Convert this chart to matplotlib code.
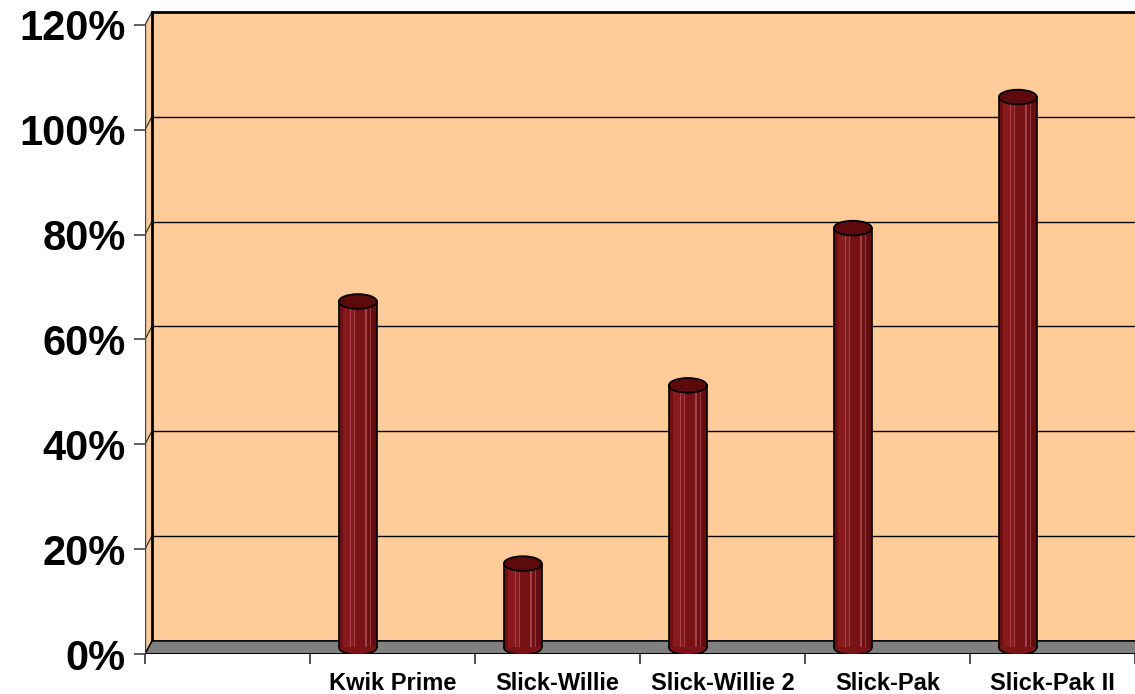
"""
3D-style cylinder chart (Excel look): share per product.
"""

import matplotlib.pyplot as plt
from matplotlib.patches import Polygon, Rectangle, Ellipse

# data
categories = ['', 'Kwik Prime', 'Slick-Willie', 'Slick-Willie 2', 'Slick-Pak', 'Slick-Pak II']
values = [None, 66, 16, 50, 80, 105]
y_ticks = [0, 20, 40, 60, 80, 100, 120]
y_labels = ['0%', '20%', '40%', '60%', '80%', '100%', '120%']

plt.rcParams['font.family'] = ['Liberation Sans', 'DejaVu Sans']

WALL = '#FFCC99'
FLOOR = '#808080'
BODY = '#7A1315'
TOP = '#5C0A0C'

# depth offset of the back wall (category units / percent units)
DX = 0.042
DY = 2.5
N = len(categories)


def draw_box(ax):
    # back wall
    ax.add_patch(Polygon([(DX, DY), (N + DX, DY), (N + DX, 120 + DY), (DX, 120 + DY)],
                         closed=True, fc=WALL, ec='none', zorder=0))
    # left side wall
    ax.add_patch(Polygon([(0, 0), (DX, DY), (DX, 120 + DY), (0, 120)],
                         closed=True, fc=WALL, ec='none', zorder=0))
    # gridlines on back and side walls
    for v in y_ticks[1:]:
        lw = 2 if v == y_ticks[-1] else 1
        ax.plot([DX, N + DX], [v + DY, v + DY], color='black', lw=lw, zorder=1,
                solid_capstyle='butt')
        ax.plot([0, DX], [v, v + DY], color='#333333', lw=0.9, zorder=1)
    ax.plot([DX, DX], [DY, 120 + DY], color='black', lw=2, zorder=1)
    # floor
    ax.add_patch(Polygon([(0, 0), (N, 0), (N + DX, DY), (DX, DY)],
                         closed=True, fc=FLOOR, ec='black', lw=1.2, zorder=1))
    # front axis lines
    ax.plot([0, 0], [0, 120], color='#444444', lw=1, zorder=1)
    ax.plot([0, N], [0, 0], color='black', lw=1.4, zorder=2)


def draw_cylinder(ax, cx, val, w=0.23, eh=2.8):
    base = DY / 2
    top = val + DY / 2
    ax.add_patch(Ellipse((cx, base), w, eh, fc=BODY, ec='black', lw=1.2, zorder=3))
    ax.add_patch(Rectangle((cx - w / 2, base), w, top - base, fc=BODY, ec='none', zorder=3))
    # shading bands
    bands = [(0.00, 0.12, '#6E1012'), (0.12, 0.28, '#861A1C'), (0.28, 0.31, '#A8444A'),
             (0.31, 0.40, '#841A1C'), (0.40, 0.43, '#A0404A'), (0.43, 0.70, '#781315'),
             (0.70, 0.73, '#A04048'), (0.73, 0.82, '#6E0F12'), (0.82, 0.85, '#9A3C44'),
             (0.85, 1.00, '#650D10')]
    for f0, f1, c in bands:
        ax.add_patch(Rectangle((cx - w / 2 + f0 * w, base), (f1 - f0) * w, top - base,
                               fc=c, ec='none', zorder=3))
    ax.plot([cx - w / 2, cx - w / 2], [base, top], color='black', lw=1.2, zorder=4)
    ax.plot([cx + w / 2, cx + w / 2], [base, top], color='black', lw=1.2, zorder=4)
    ax.add_patch(Ellipse((cx, top), w, eh, fc=TOP, ec='black', lw=1.3, zorder=5))


fig = plt.figure(figsize=(11.35, 6.94), dpi=100)
ax = fig.add_axes([145 / 1135, 40 / 694, 990 / 1135, 123 * 5.242 / 694])
ax.set_xlim(0, N)
ax.set_ylim(0, 123)
ax.patch.set_visible(False)
for s in ax.spines.values():
    s.set_visible(False)

draw_box(ax)

for i, v in enumerate(values):
    if v is None:
        continue
    draw_cylinder(ax, i + 0.29, v)

# y axis
ax.set_yticks(y_ticks)
ax.set_yticklabels(y_labels, fontsize=30, fontweight='bold')
ax.tick_params(axis='y', which='major', direction='out', length=8, width=1.2,
               color='#444444', pad=6)

# x axis: boundary ticks + centered labels
ax.set_xticks(range(N + 1))
ax.set_xticklabels([''] * (N + 1))
ax.tick_params(axis='x', which='major', direction='out', length=7, width=1.2, color='#333333')
ax.set_xticks([i + 0.5 for i in range(N)], minor=True)
ax.set_xticklabels(categories, minor=True, fontsize=17, fontweight='bold')
ax.tick_params(axis='x', which='minor', length=0, pad=13)

fig.savefig('out.png', dpi=100)
